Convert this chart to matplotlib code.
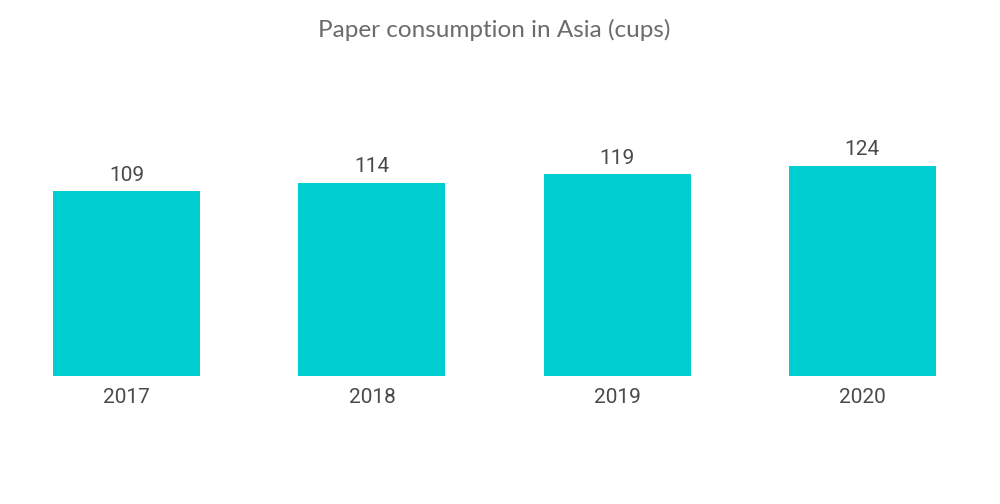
import matplotlib
matplotlib.use("Agg")
import matplotlib.pyplot as plt

years = ["2017", "2018", "2019", "2020"]
values = [109, 114, 119, 124]

fig = plt.figure(figsize=(10, 5.04), dpi=100)
ax = fig.add_axes([0.004, 0.254, 0.981, 0.504])
x = range(len(years))
bars = ax.bar(x, values, width=0.6, color="#00CED1")
ax.set_xlim(-0.5, len(years) - 0.5)
ax.set_ylim(0, 150)
for xi, v in zip(x, values):
    ax.text(xi, v + 4, str(v), ha="center", va="bottom", fontsize=15,
            color="#4a4a4a", family="Roboto")
ax.set_xticks(list(x))
ax.set_xticklabels(years, fontsize=15, color="#4a4a4a", family="Roboto")
ax.tick_params(axis="x", length=0, pad=9)
ax.set_yticks([])
for s in ax.spines.values():
    s.set_visible(False)
fig.text(0.494, 0.94, "Paper consumption in Asia (cups)", ha="center", va="center",
         fontsize=17.5, color="#6b6b6b", family="Lato")
fig.savefig("out.png", dpi=100, facecolor="white")
